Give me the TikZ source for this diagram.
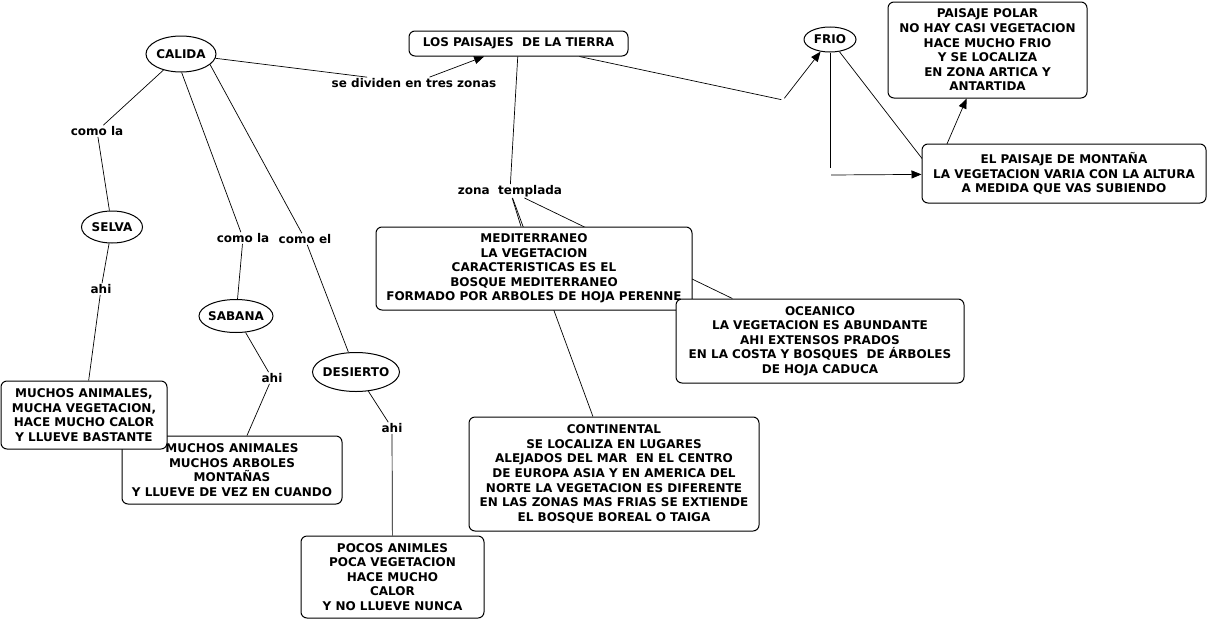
\documentclass[tikz,border=0pt]{standalone}
\usepackage{fontspec}
\setmainfont{DejaVu Sans}
\usetikzlibrary{arrows.meta,shapes.geometric,backgrounds}

\begin{document}
\begin{tikzpicture}[x=1pt,y=-1pt,>={Triangle[length=10pt,width=8pt]},
	every node/.style={font=\fontsize{12}{14.6}\selectfont\bfseries},
	concept/.style={draw,rounded corners=6pt,fill=white,align=center,inner sep=0pt,line width=1pt},
	zone/.style={draw,ellipse,fill=white,inner xsep=-4pt,inner ysep=0pt,line width=1pt},
	phrase/.style={inner sep=1pt},
	nexo/.style={inner sep=0pt}]
		
		\useasboundingbox (0,0) rectangle (1209,621);
		
		\node[concept,minimum width=219pt,minimum height=25pt] (paisajes) at (518.5,43.5) {LOS PAISAJES~ DE LA TIERRA};
		
		\node[zone,minimum width=70pt,minimum height=36pt] (calida) at (181,54) {CALIDA};
		\node[zone,minimum width=52pt,minimum height=25pt] (frio) at (830,39.5) {FRIO};
		\node[zone,minimum width=61pt,minimum height=32pt] (selva) at (112,227) {SELVA};
		\node[zone,minimum width=74pt,minimum height=33pt] (sabana) at (236,316) {SABANA};
		\node[zone,minimum width=87pt,minimum height=39pt] (desierto) at (356,372) {DESIERTO};
		
		\node[concept,minimum width=199pt,minimum height=96pt] (polar) at (987.5,50) {PAISAJE POLAR\\NO HAY CASI VEGETACION\\HACE MUCHO FRIO\\Y SE LOCALIZA\\EN ZONA ARTICA Y\\ANTARTIDA};
		\node[concept,minimum width=284pt,minimum height=59pt] (montana) at (1064,173.5) {EL PAISAJE DE MONTAÑA\\LA VEGETACION VARIA CON LA ALTURA\\A MEDIDA QUE VAS SUBIENDO};
		\node[concept,minimum width=316pt,minimum height=83pt] (medit) at (534,268.5) {MEDITERRANEO\\LA VEGETACION\\CARACTERISTICAS ES EL\\BOSQUE MEDITERRANEO\\FORMADO POR ARBOLES DE HOJA PERENNE};
		\node[concept,minimum width=288pt,minimum height=84pt] (oceanico) at (820,341) {OCEANICO\\LA VEGETACION ES ABUNDANTE\\AHI EXTENSOS PRADOS\\EN LA COSTA Y BOSQUES~ DE ÁRBOLES\\DE HOJA CADUCA};
		\node[concept,minimum width=290pt,minimum height=114pt] (continental) at (614,474) {CONTINENTAL\\SE LOCALIZA EN LUGARES\\ALEJADOS DEL MAR~ EN EL CENTRO\\DE EUROPA ASIA Y EN AMERICA DEL\\NORTE LA VEGETACION ES DIFERENTE\\EN LAS ZONAS MAS FRIAS SE EXTIENDE\\EL BOSQUE BOREAL O TAIGA};
		\node[concept,minimum width=220pt,minimum height=68pt] (sabanabox) at (232,470) {MUCHOS ANIMALES\\MUCHOS ARBOLES\\MONTAÑAS\\Y LLUEVE DE VEZ EN CUANDO};
		\node[concept,minimum width=166pt,minimum height=68pt] (selvabox) at (84,415) {MUCHOS ANIMALES,\\MUCHA VEGETACION,\\HACE MUCHO CALOR\\Y LLUEVE BASTANTE};
		\node[concept,minimum width=183pt,minimum height=82pt] (pocos) at (392.5,577) {POCOS ANIMLES\\POCA VEGETACION\\HACE MUCHO\\CALOR\\Y NO LLUEVE NUNCA};
		
		\node[phrase] (dividen) at (414,83) {se dividen en tres zonas};
		\node[phrase] (templada) at (510,191) {zona~ templada};
		\node[phrase] (comola1) at (97,131) {como la};
		\node[phrase] (comola2) at (243,238) {como la};
		\node[phrase] (comoel) at (305,239) {como el};
		\node[phrase] (ahi1) at (101,289) {ahi};
		\node[phrase] (ahi2) at (272,378) {ahi};
		\node[phrase] (ahi3) at (392,428) {ahi};
		\node[nexo,minimum size=3pt] (nexo1) at (783,100) {};
		\node[nexo,minimum width=2pt,minimum height=14pt] (nexo2) at (830,175) {};
		\coordinate (nexo3) at (934,174);
		
		\begin{scope}[on background layer]
		\path[line width=0.7pt]
		(calida) edge (dividen)
		(dividen) edge[->] (paisajes)
		(paisajes) edge (templada)
		(templada) edge (medit)
		(templada) edge (oceanico)
		(templada) edge (continental)
		(paisajes) edge (nexo1)
		(nexo1) edge[->] (frio)
		(frio) edge (nexo2)
		(nexo2) edge[->] (montana)
		(frio) edge (nexo3)
		(nexo3) edge[->] (polar)
		(calida) edge (comola1)
		(comola1) edge (selva)
		(selva) edge (ahi1)
		(ahi1) edge (selvabox)
		(calida.-88) edge (comola2)
		(comola2) edge (sabana)
		(sabana) edge (ahi2)
		(ahi2) edge (sabanabox)
		(calida.-20) edge (comoel)
		(comoel) edge (desierto)
		(desierto) edge (ahi3)
		(ahi3) edge (pocos)
		;
		\end{scope}
		\end{tikzpicture}
\end{document}
